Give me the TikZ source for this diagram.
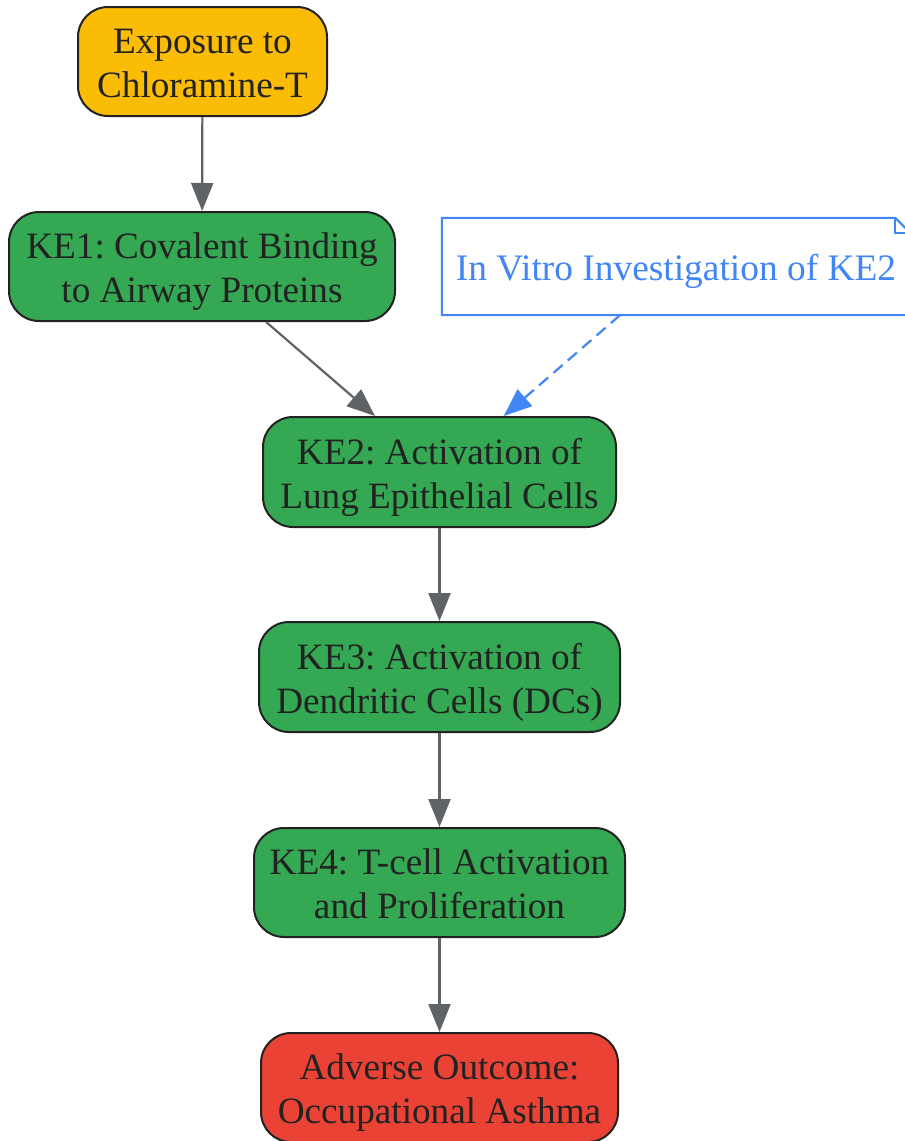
\documentclass[tikz,border=0pt]{standalone}
\usepackage{fontspec}
\setmainfont{Liberation Serif}
\usetikzlibrary{arrows.meta,calc}
\definecolor{ylw}{HTML}{FBBC05}
\definecolor{grn}{HTML}{34A853}
\definecolor{rd}{HTML}{EA4335}
\definecolor{blu}{HTML}{4285F4}
\definecolor{edge}{HTML}{5F6368}
\definecolor{ink}{HTML}{222222}
\newcommand{\twoline}[2]{\raisebox{-5.5pt}[\height][\depth]{\begin{tabular}{@{}c@{}}#1\\#2\end{tabular}}}
\tikzset{
  box/.style={draw=ink, line width=2pt, rounded corners=30pt, inner sep=0pt,
    align=center, text=ink, font=\fontsize{37.2}{44}\selectfont\frenchspacing, minimum height=109pt},
  flow/.style={draw=edge, line width=2.2pt, -{Triangle[length=28pt,width=22pt]}},
  notebox/.style={inner sep=0pt, text=blu, font=\fontsize{37.4}{44}\selectfont,
    minimum width=468pt, minimum height=97pt},
  noteflow/.style={draw=blu, line width=2.2pt, dash pattern=on 12pt off 7pt,
    -{Triangle[length=28pt,width=22pt]}}
}
\begin{document}
\begin{tikzpicture}[x=1pt,y=-1pt]
\useasboundingbox (0,0) rectangle (905,1141);
\clip (0,0) rectangle (905,1141);
\fill[white] (0,0) rectangle (905,1141);
\node[box, fill=ylw, minimum width=249pt] (exp) at (202.5,61.5) {\twoline{Exposure to}{Chloramine-T}};
\node[box, fill=grn, minimum width=386pt] (ke1) at (202,266.5) {\twoline{KE1: Covalent Binding}{to Airway Proteins}};
\node[notebox] (note) at (676,266.5) {\raisebox{-5pt}[\height][\depth]{In Vitro Investigation of KE2}};
\draw[blu, line width=2pt] (note.south west) -- (note.north west) -- ($(note.north east)+(-15,0)$) -- ($(note.north east)+(0,15)$) -- (note.south east) -- cycle;
\draw[blu, line width=2pt] ($(note.north east)+(-15,0)$) -- ($(note.north east)+(-15,15)$) -- ($(note.north east)+(0,15)$);
\node[box, fill=grn, minimum width=353pt, minimum height=110pt] (ke2) at (439.5,472) {\twoline{KE2: Activation of}{Lung Epithelial Cells}};
\node[box, fill=grn, minimum width=361pt, minimum height=110pt] (ke3) at (439.5,677) {\twoline{KE3: Activation of}{Dendritic Cells (DCs)}};
\node[box, fill=grn, minimum width=371pt] (ke4) at (439.5,882.5) {\twoline{KE4: T-cell Activation}{and Proliferation}};
\node[box, fill=rd, minimum width=357pt] (ao) at (439.5,1087.5) {\twoline{Adverse Outcome:}{Occupational Asthma}};
\draw[flow] (exp) -- (ke1);
\draw[flow] (ke1) -- (ke2);
\draw[noteflow] (note) -- (ke2);
\draw[flow] (ke2) -- (ke3);
\draw[flow] (ke3) -- (ke4);
\draw[flow] (ke4) -- (ao);
\end{tikzpicture}
\end{document}
